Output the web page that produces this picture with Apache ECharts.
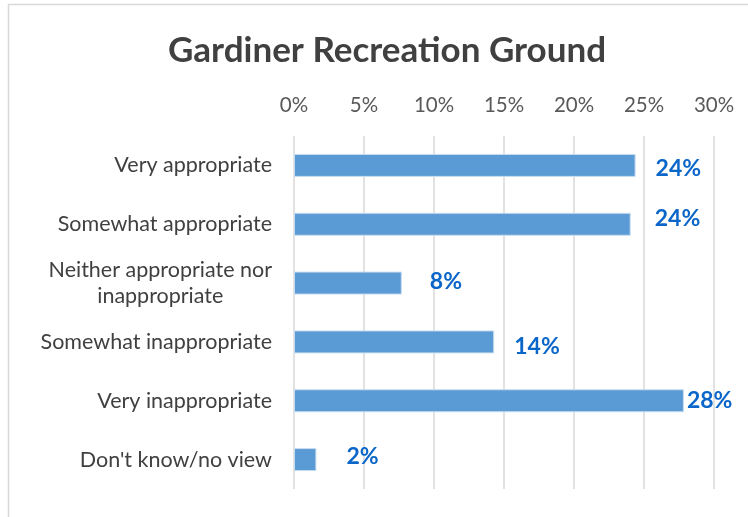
<html>
<head>
    <script src="https://cdn.jsdelivr.net/npm/echarts@6/dist/echarts.min.js"></script>
    <style>
        body { margin: 0; background: #fff; }
    </style>
</head>
<body>
    <div id="main" style="width: 748px;height:517px;"></div>
    <script>
        // chart data
        var categories = [
            'Very appropriate',
            'Somewhat appropriate',
            'Neither appropriate nor\ninappropriate',
            'Somewhat inappropriate',
            'Very inappropriate',
            "Don't know/no view"
        ];
        var values = [24.4, 24.05, 7.7, 14.3, 27.85, 1.6];
        var xTicks = [0, 5, 10, 15, 20, 25, 30];

        // label nudges (the excel labels were moved by hand)
        var labelOffsets = [[20, 3], [24, -6], [28, -2], [20, 5], [3, 0], [30, -3]];

        var myChart = echarts.init(document.getElementById('main'));
        var fontName = 'Lato';

        var barData = values.map(function (v, i) {
            return {
                value: v,
                label: { offset: labelOffsets[i] }
            };
        });

        var option = {
            animation: false,
            textStyle: { fontFamily: fontName },
            title: {
                text: 'Gardiner Recreation Ground',
                left: 382,
                top: 19,
                textAlign: 'center',
                textStyle: {
                    fontFamily: fontName,
                    fontSize: 35,
                    fontWeight: 'bold',
                    color: '#404040'
                }
            },
            graphic: [{
                type: 'rect',
                shape: { x: 8.5, y: 4.5, width: 800, height: 600 },
                style: { fill: 'none', stroke: '#d9d9d9', lineWidth: 1.5 },
                silent: true
            }],
            grid: { left: 294, top: 136, width: 420, height: 353 },
            xAxis: {
                type: 'value',
                position: 'top',
                min: xTicks[0],
                max: xTicks[xTicks.length - 1],
                interval: 5,
                axisLine: { show: false },
                axisTick: { show: false },
                axisLabel: {
                    margin: 15,
                    fontSize: 20.5,
                    color: '#595959',
                    fontFamily: fontName,
                    formatter: function (v) { return v + '%'; }
                },
                splitLine: { show: true, lineStyle: { color: '#d9d9d9', width: 1.5 } }
            },
            yAxis: {
                type: 'category',
                inverse: true,
                data: categories,
                axisLine: { show: false },
                axisTick: { show: false },
                axisLabel: {
                    margin: 22,
                    fontSize: 21.5,
                    color: '#404040',
                    fontFamily: fontName,
                    formatter: function (v) {
                        return v.split('\n').map(function (s) { return '{c|' + s + '}'; }).join('\n');
                    },
                    rich: {
                        c: { align: 'center', fontSize: 21.5, color: '#404040', fontFamily: fontName, lineHeight: 26 }
                    }
                }
            },
            series: [{
                type: 'bar',
                data: barData,
                barWidth: 23,
                itemStyle: { color: '#5b9bd5', borderColor: '#c9ddf0', borderWidth: 1 },
                label: {
                    show: true,
                    position: 'right',
                    distance: 0,
                    fontFamily: fontName,
                    fontSize: 23,
                    fontWeight: 'bold',
                    color: '#0a66c8',
                    formatter: function (p) { return Math.round(p.value) + '%'; }
                }
            }]
        };

        myChart.setOption(option);
    </script>
</body>
</html>
